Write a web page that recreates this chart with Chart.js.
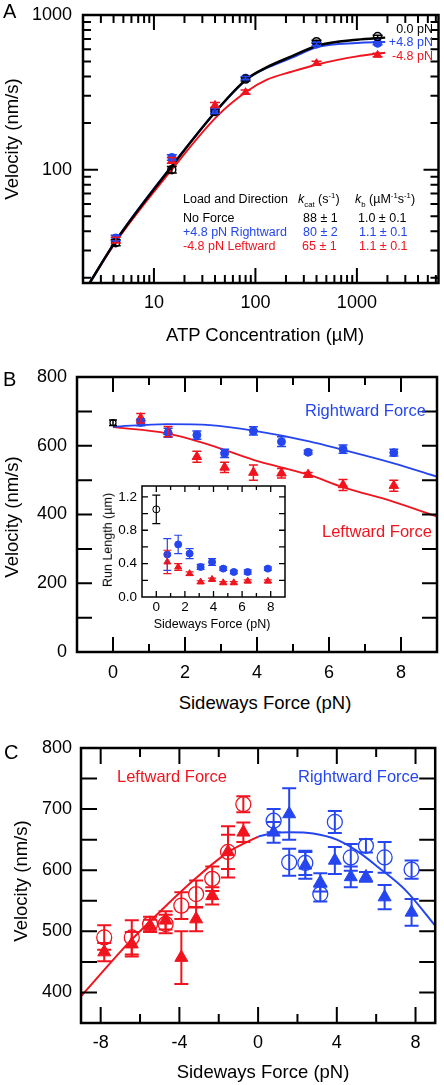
<!DOCTYPE html>
<html><head><meta charset="utf-8">
<script src="https://cdn.jsdelivr.net/npm/chart.js@4.4.1/dist/chart.umd.min.js"></script>
<style>
html,body{margin:0;padding:0;background:#fff;}
body{position:relative;width:444px;height:1085px;overflow:hidden;font-family:'Liberation Sans',Arial,Helvetica,sans-serif;}
canvas{position:absolute;}
.t{position:absolute;white-space:nowrap;line-height:1;}
.t sub,.t sup{font-size:62%;line-height:0;}
</style></head><body>
<canvas id="cA" width="444" height="325" style="left:0;top:0"></canvas>
<canvas id="cB" width="444" height="330" style="left:0;top:360px"></canvas>
<canvas id="cIn" width="200" height="150" style="left:90px;top:480px"></canvas>
<canvas id="cC" width="444" height="335" style="left:0;top:730px"></canvas>
<script>
const FONT = "'Liberation Sans', Arial, Helvetica, sans-serif";
const RED = '#f0141e', BLUE = '#2546ee', BLACK = '#000';

// ---------- Panel A : velocity vs ATP ----------
const atpConc      = [4.2, 15, 40, 80, 400, 1600];
const velNoForceA  = [33.7, 100, 238, 385, 672, 725];
const errNoForceA  = [1.5, 5, 9, 10, 15, 15];
const velRightA    = [36.2, 120, 240, 391, 648, 656];
const errRightA    = [1.5, 5, 9, 10, 15, 15];
const velLeftA     = [35, 115, 262, 317, 488, 552];
const errLeftA     = [1.5, 5, 10, 10, 14, 14];
const fitAtpA      = [2.3, 4.2, 15, 42, 82, 130, 227, 415, 1000, 1900];
const fitNoForceA  = [18.3, 34.5, 105, 244, 385, 460, 540, 635, 692, 714];
const fitRightA    = [18.3, 34.8, 106, 243, 382, 455, 528, 622, 660, 668];
const fitLeftA     = [18.3, 34, 100, 222, 320, 382, 430, 481, 540, 571];
const ticksXA  = [2,3,4,5,6,7,8,9,10,20,30,40,50,60,70,80,90,100,200,300,400,500,600,700,800,900,1000,2000,3000,4000,5000,6000];
const labelsXA = [10, 100, 1000];
const ticksYA  = [20,30,40,50,60,70,80,90,100,200,300,400,500,600,700,800,900,1000];
const labelsYA = [100, 1000];

// ---------- Panel B : velocity vs sideways force ----------
const forceB      = [0.77, 1.53, 2.33, 3.1, 3.9, 4.68, 5.42, 6.39, 7.8];
const velRightB   = [668, 638, 631, 578, 643, 612, 581, 590, 580];
const errRightB   = [10, 13, 12, 12, 12, 14, 6, 12, 10];
const velLeftB    = [680, 641, 568, 537, 522, 520, 516, 486, 484];
const errLeftB    = [14, 15, 16, 15, 22, 14, 6, 16, 16];
const forceZeroB  = [0];
const velZeroB    = [667];
const errZeroB    = [8];
const fitForceB   = [0, 1.5, 2.7, 3.9, 5.45, 6.4, 7.8, 9];
const fitRightB   = [655, 663, 660, 644, 613, 588, 549, 510];
const fitLeftB    = [654, 636, 602, 559, 515, 479, 437, 394];
const ticksXB  = [0,1,2,3,4,5,6,7,8];
const labelsXB = [0,2,4,6,8];
const ticksYB  = [0,100,200,300,400,500,600,700,800];
const labelsYB = [0,200,400,600,800];

// ---------- Inset : run length ----------
const runRight     = [0.51, 0.63, 0.52, 0.36, 0.42, 0.34, 0.30, 0.30, 0.34];
const runRightErr  = [0.19, 0.11, 0.06, 0.03, 0.04, 0.02, 0.02, 0.025, 0.02];
const runLeft      = [0.42, 0.36, 0.28, 0.18, 0.21, 0.17, 0.17, 0.19, 0.19];
const runLeftErr   = [0.14, 0.04, 0.02, 0.015, 0.015, 0.015, 0.015, 0.015, 0.015];
const runZero      = [1.05];
const runZeroErr   = [0.17];
const ticksXIn  = [0,1,2,3,4,5,6,7,8];
const labelsXIn = [0,2,4,6,8];
const ticksYIn  = [0,0.2,0.4,0.6,0.8,1.0,1.2];
const labelsYIn = [0,0.4,0.8,1.2];

// ---------- Panel C ----------
const forceLeftC    = [-7.82, -6.42, -5.49, -4.7, -3.9, -3.15, -2.33, -1.53, -0.75];
const velLeftOpenC  = [490, 490, 512, 512, 542, 561, 586, 630, 708];
const errLeftOpenC  = [20, 28, 12, 15, 22, 22, 20, 28, 13];
const velLeftFillC  = [466, 479, 509, 518, 457, 520, 558, 630, 662];
const errLeftFillC  = [15, 20, 10, 15, 43, 20, 14, 42, 16];
const forceRightC   = [0.79, 1.58, 2.4, 3.16, 3.9, 4.71, 5.48, 6.43, 7.8];
const velRightOpenC = [681, 613, 612, 561, 679, 621, 640, 621, 601];
const errRightOpenC = [19, 22, 20, 12, 18, 22, 11, 25, 15];
const velRightFillC = [662, 692, 608, 580, 616, 589, 589, 556, 531];
const errRightFillC = [17, 42, 22, 15, 22, 17, 8, 20, 22];
const fitForceLeftC  = [-9.1, -6.5, -4.9, -3.2, -1.5, 0];
const fitLeftC       = [390, 484, 535, 586, 630, 655];
const fitForceRightC = [0, 0.8, 1.6, 2.8, 4, 5, 6.1, 7.5, 9.1];
const fitRightC      = [655, 661, 662, 660, 650, 632, 605, 567, 505];
const ticksXC  = [-8,-6,-4,-2,0,2,4,6,8];
const labelsXC = [-8,-4,0,4,8];
const ticksYC  = [400,450,500,550,600,650,700,750,800];
const labelsYC = [400,500,600,700,800];

// ---------- helpers ----------
const pts = (xs, ys) => xs.map((x, i) => ({x: x, y: ys[i]}));
const near = (a, b) => Math.abs(a - b) < 1e-9;

function markers(xs, ys, errs, o) {
  return {data: pts(xs, ys), errY: errs, showLine: false, pointStyle: o.style, pointRadius: o.r,
    pointHoverRadius: o.r, pointBackgroundColor: o.fill, pointBorderColor: o.color,
    pointBorderWidth: o.bw || 1, borderColor: o.color, capW: o.cap, errLW: o.elw};
}
function fit(xs, ys, color, w) {
  return {data: pts(xs, ys), showLine: true, pointRadius: 0, pointHoverRadius: 0, borderColor: color,
    borderWidth: w, fill: false, cubicInterpolationMode: 'monotone'};
}
function axis(d) {
  return {
    type: d.type || 'linear', min: d.min, max: d.max, bounds: 'data', position: d.pos,
    grid: {display: false, drawTicks: false}, border: {display: false},
    ticks: {autoSkip: false, maxRotation: 0, minRotation: 0, padding: d.pad, color: '#000',
      font: {family: FONT, size: d.fs},
      callback: (v) => d.labels.some(l => near(l, v)) ? (d.fmt ? d.fmt(v) : String(v)) : ''},
    afterBuildTicks: (s) => { s.ticks = d.ticks.map(v => ({value: v})); },
    afterFit: (s) => {
      if (d.pos === 'left') s.width = d.size; else s.height = d.size;
      s.paddingTop = 0; s.paddingBottom = 0; s.paddingLeft = 0; s.paddingRight = 0;
    }
  };
}

const framePlugin = {
  id: 'frame',
  afterDatasetsDraw(chart) {
    const ctx = chart.ctx, a = chart.chartArea, sx = chart.scales.x, sy = chart.scales.y;
    ctx.save();
    ctx.beginPath(); ctx.rect(a.left, a.top, a.right - a.left, a.bottom - a.top); ctx.clip();
    chart.data.datasets.forEach((ds) => {
      if (!ds.errY) return;
      ctx.strokeStyle = ds.borderColor; ctx.lineWidth = ds.errLW || 1.5; ctx.lineCap = 'butt';
      ds.data.forEach((p, j) => {
        const e = ds.errY[j]; if (!e) return;
        const px = sx.getPixelForValue(p.x);
        const y1 = sy.getPixelForValue(p.y - e), y2 = sy.getPixelForValue(p.y + e);
        const c = ds.capW || 4;
        ctx.beginPath();
        ctx.moveTo(px, y1); ctx.lineTo(px, y2);
        ctx.moveTo(px - c, y1); ctx.lineTo(px + c, y1);
        ctx.moveTo(px - c, y2); ctx.lineTo(px + c, y2);
        ctx.stroke();
      });
    });
    ctx.restore();
  },
  afterDraw(chart, args, o) {
    if (!o || !o.fw) return;
    const ctx = chart.ctx, a = chart.chartArea, sx = chart.scales.x, sy = chart.scales.y;
    ctx.save(); ctx.strokeStyle = '#000'; ctx.lineWidth = o.tw; ctx.lineCap = 'butt';
    ctx.beginPath();
    sx.ticks.forEach(t => {
      if (t.value <= sx.min || t.value >= sx.max) return;
      const p = sx.getPixelForValue(t.value), L = o.majX(t.value) ? o.maj : o.min;
      ctx.moveTo(p, a.bottom); ctx.lineTo(p, a.bottom - L);
      ctx.moveTo(p, a.top); ctx.lineTo(p, a.top + L);
    });
    sy.ticks.forEach(t => {
      if (t.value <= sy.min || t.value >= sy.max) return;
      const p = sy.getPixelForValue(t.value), L = o.majY(t.value) ? o.maj : o.min;
      ctx.moveTo(a.left, p); ctx.lineTo(a.left + L, p);
      ctx.moveTo(a.right, p); ctx.lineTo(a.right - L, p);
    });
    ctx.stroke();
    ctx.lineWidth = o.fw;
    ctx.strokeRect(a.left, a.top, a.right - a.left, a.bottom - a.top);
    ctx.restore();
  }
};
Chart.register(framePlugin);

function makeChart(id, datasets, xAx, yAx, pad, frame) {
  return new Chart(document.getElementById(id), {
    type: 'scatter',
    data: {datasets: datasets},
    options: {
      responsive: false, animation: false, devicePixelRatio: 1, events: [],
      layout: {padding: pad},
      plugins: {legend: {display: false}, tooltip: {enabled: false}, frame: frame},
      scales: {x: axis(xAx), y: axis(yAx)}
    }
  });
}
const isPow10 = v => near(Math.log10(v), Math.round(Math.log10(v)));

// ---------- Panel A chart ----------
makeChart('cA', [
  markers(atpConc, velNoForceA, errNoForceA, {style: 'circle', r: 4, fill: 'rgba(0,0,0,0)', color: BLACK, bw: 1.5, cap: 5, elw: 1.5}),
  markers(atpConc, velRightA, errRightA, {style: 'circle', r: 4, fill: BLUE, color: BLUE, cap: 5, elw: 1.5}),
  markers(atpConc, velLeftA, errLeftA, {style: 'triangle', r: 4.5, fill: RED, color: RED, cap: 5, elw: 1.5}),
  fit(fitAtpA, fitNoForceA, BLACK, 2.5),
  fit(fitAtpA, fitRightA, BLUE, 2),
  fit(fitAtpA, fitLeftA, RED, 2)
], {type: 'logarithmic', min: 2, max: 6370, pos: 'bottom', ticks: ticksXA, labels: labelsXA, fs: 18, pad: 9, size: 42},
   {type: 'logarithmic', min: 18.5, max: 1000, pos: 'left', ticks: ticksYA, labels: labelsYA, fs: 18, pad: 11, size: 83},
   {left: 0, top: 15, right: 3, bottom: 0},
   {maj: 15, min: 8, tw: 2, fw: 2.5, majX: isPow10, majY: isPow10});

// ---------- Panel B chart ----------
makeChart('cB', [
  markers(forceZeroB, velZeroB, errZeroB, {style: 'circle', r: 3, fill: 'rgba(0,0,0,0)', color: BLACK, bw: 1.2, cap: 4, elw: 1.5}),
  markers(forceB, velRightB, errRightB, {style: 'circle', r: 4, fill: BLUE, color: BLUE, cap: 4.5, elw: 1.5}),
  markers(forceB, velLeftB, errLeftB, {style: 'triangle', r: 5.5, fill: RED, color: RED, cap: 4.5, elw: 1.5}),
  fit(fitForceB, fitRightB, BLUE, 1.8),
  fit(fitForceB, fitLeftB, RED, 1.8)
], {min: -1, max: 9, pos: 'bottom', ticks: ticksXB, labels: labelsXB, fs: 18, pad: 10, size: 38},
   {min: 0, max: 800, pos: 'left', ticks: ticksYB, labels: labelsYB, fs: 18, pad: 10, size: 77},
   {left: 0, top: 17, right: 7, bottom: 0},
   {maj: 15, min: 8, tw: 2, fw: 2.5, majX: v => near(v % 2, 0), majY: v => true});

// ---------- Inset chart ----------
makeChart('cIn', [
  markers(forceZeroB, runZero, runZeroErr, {style: 'circle', r: 3.5, fill: 'rgba(0,0,0,0)', color: BLACK, bw: 1, cap: 4, elw: 1.2}),
  markers(forceB, runRight, runRightErr, {style: 'circle', r: 3.5, fill: BLUE, color: BLUE, cap: 4, elw: 1.2}),
  markers(forceB, runLeft, runLeftErr, {style: 'triangle', r: 4, fill: RED, color: RED, cap: 4, elw: 1.2})
], {min: -1, max: 9, pos: 'bottom', ticks: ticksXIn, labels: labelsXIn, fs: 13.5, pad: 2, size: 33},
   {min: 0, max: 1.33, pos: 'left', ticks: ticksYIn, labels: labelsYIn, fs: 13.5, pad: 5, size: 52, fmt: v => v.toFixed(1)},
   {left: 0, top: 6, right: 5, bottom: 0},
   {maj: 6, min: 4, tw: 1.3, fw: 1.5, majX: v => near(v % 2, 0), majY: v => true});

// ---------- Panel C chart ----------
makeChart('cC', [
  markers(forceLeftC, velLeftOpenC, errLeftOpenC, {style: 'circle', r: 7.5, fill: 'rgba(0,0,0,0)', color: RED, bw: 1.3, cap: 7, elw: 2}),
  markers(forceLeftC, velLeftFillC, errLeftFillC, {style: 'triangle', r: 7.5, fill: RED, color: RED, cap: 7, elw: 2}),
  markers(forceRightC, velRightOpenC, errRightOpenC, {style: 'circle', r: 7.5, fill: 'rgba(0,0,0,0)', color: BLUE, bw: 1.3, cap: 7, elw: 2}),
  markers(forceRightC, velRightFillC, errRightFillC, {style: 'triangle', r: 7.5, fill: BLUE, color: BLUE, cap: 7, elw: 2}),
  fit(fitForceLeftC, fitLeftC, RED, 2),
  fit(fitForceRightC, fitRightC, BLUE, 2)
], {min: -9, max: 9, pos: 'bottom', ticks: ticksXC, labels: labelsXC, fs: 18, pad: 9, size: 42},
   {min: 350, max: 800, pos: 'left', ticks: ticksYC, labels: labelsYC, fs: 18, pad: 9, size: 81},
   {left: 0, top: 18, right: 3, bottom: 0},
   {maj: 16, min: 9, tw: 2, fw: 2.5, majX: v => near(v % 4, 0), majY: v => true});

// ---------- text ----------
function label(html, x, y, o) {
  o = o || {};
  const s = o.size || 18;
  const d = document.createElement('div');
  d.className = 't'; d.innerHTML = html;
  d.style.fontSize = s + 'px'; d.style.color = o.color || '#000';
  if (o.rot) {
    d.style.left = x + 'px'; d.style.top = y + 'px';
    d.style.transform = 'translate(-50%,-50%) rotate(-90deg)';
  } else {
    d.style.top = (y - 0.5 * s) + 'px';
    if (o.align === 'right') d.style.right = (444 - x) + 'px';
    else if (o.align === 'center') { d.style.left = x + 'px'; d.style.transform = 'translateX(-50%)'; }
    else d.style.left = x + 'px';
  }
  document.body.appendChild(d);
}
// panel letters
label('A', 3, 11, {size: 20});
label('B', 3, 379, {size: 20});
label('C', 4, 752, {size: 20});
// axis titles
label('Velocity (nm/s)', 12, 139, {size: 18.5, rot: true});
label('ATP Concentration (µM)', 265, 335, {size: 18.5, align: 'center'});
label('Velocity (nm/s)', 12, 517, {size: 18.5, rot: true});
label('Sideways Force (pN)', 265, 703, {size: 18.5, align: 'center'});
label('Velocity (nm/s)', 21, 881, {size: 18.5, rot: true});
label('Sideways Force (pN)', 263, 1072, {size: 18.5, align: 'center'});
label('Run Length (µm)', 108, 540, {size: 12.5, rot: true});
label('Sideways Force (pN)', 212, 624, {size: 12.5, align: 'center'});
// panel A curve labels
label('0.0 pN', 433, 29, {size: 12.5});
label('+4.8 pN', 433, 42.5, {size: 12.5, color: BLUE});
label('-4.8 pN', 433, 56.7, {size: 12.5, color: RED});
document.querySelectorAll('.t').forEach(()=>{});
// fix right alignment for the three labels above
Array.from(document.querySelectorAll('.t')).slice(-3).forEach(d => { d.style.left = ''; d.style.right = (444 - 433) + 'px'; });
// panel A table
label('Load and Direction', 183, 199.3, {size: 12.5});
label('<i>k</i><sub>cat</sub> (s<sup>-1</sup>)', 298, 199.3, {size: 12.5});
label('<i>k</i><sub>b</sub> (µM<sup>-1</sup>s<sup>-1</sup>)', 355, 199.3, {size: 12.5});
label('No Force', 183, 218.3, {size: 12.5});
label('88 ± 1', 303, 218.3, {size: 12.5});
label('1.0 ± 0.1', 358, 218.3, {size: 12.5});
label('+4.8 pN Rightward', 183, 232.3, {size: 12.5, color: BLUE});
label('80 ± 2', 303, 232.3, {size: 12.5, color: BLUE});
label('1.1 ± 0.1', 359, 232.3, {size: 12.5, color: BLUE});
label('-4.8 pN Leftward', 183, 246.7, {size: 12.5, color: RED});
label('65 ± 1', 302, 246.7, {size: 12.5, color: RED});
label('1.1 ± 0.1', 359, 246.7, {size: 12.5, color: RED});
// panel B labels
label('Rightward Force', 305, 410.7, {size: 16.5, color: BLUE});
label('Leftward Force', 322, 531.7, {size: 16.5, color: RED});
// panel C labels
label('Leftward Force', 117, 776.7, {size: 16.5, color: RED});
label('Rightward Force', 298, 776.7, {size: 16.5, color: BLUE});
</script>
</body></html>
